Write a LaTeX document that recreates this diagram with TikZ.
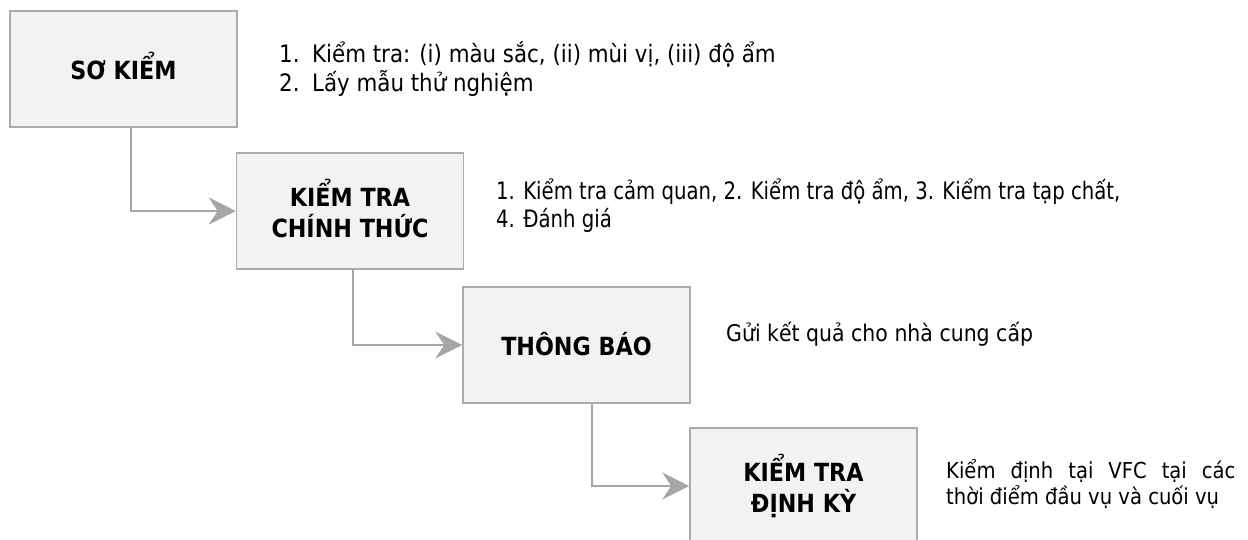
\documentclass[tikz,border=0pt]{standalone}
\usepackage{fontspec}
\setmainfont{DejaVu Sans}[FakeStretch=0.89]
\newfontfamily\narrowfont{DejaVu Sans}[FakeStretch=0.82]
\usetikzlibrary{arrows.meta}
\definecolor{boxfill}{HTML}{F2F2F2}
\definecolor{boxline}{HTML}{ABABAB}
\definecolor{linkgray}{HTML}{A6A6A6}
\newlength\lastlinewd
\begin{document}
\begin{tikzpicture}[x=1pt,y=-1pt,
  stage/.style={draw=boxline, line width=1.5pt, fill=boxfill,
    minimum width=227pt, minimum height=116pt, inner sep=0pt},
  stagetext/.style={anchor=base, inner sep=0pt,
    font=\fontsize{25}{30}\selectfont\bfseries},
  link/.style={draw=linkgray, line width=2pt,
    -{Stealth[length=27pt,width=27pt,inset=9pt]}},
  note/.style={anchor=base west, inner sep=0pt,
    font=\fontsize{24}{29}\selectfont},
  narrownote/.style={note, font=\fontsize{24}{29}\selectfont\narrowfont},
  midnote/.style={note, font=\fontsize{23}{28}\selectfont},
  smallnote/.style={note, font=\fontsize{22}{26}\selectfont}]
\clip (0,0) rectangle (1248,539);
\useasboundingbox (0,0) rectangle (1248,539);

% stage boxes
\node[stage] (b1) at (123.5,69) {};
\node[stage] (b2) at (350,211) {};
\node[stage] (b3) at (576.5,345) {};
\node[stage] (b4) at (803.5,486) {};

% stage titles
\node[stagetext] (t1) at (123.5,79) {SƠ KIỂM};
\node[stagetext] (t2a) at (350,206) {KIỂM TRA};
\node[stagetext] (t2b) at (350,237) {CHÍNH THỨC};
\node[stagetext] (t3) at (576.5,355) {THÔNG BÁO};
\node[stagetext] (t4a) at (803.5,481) {KIỂM TRA};
\node[stagetext] (t4b) at (803.5,512) {ĐỊNH KỲ};

% elbow connectors
\draw[link] ([xshift=7.5pt]b1.south) |- (b2.west);
\draw[link] ([xshift=3pt]b2.south) |- (b3.west);
\draw[link] ([xshift=15.5pt]b3.south) |- (b4.west);

% notes beside the stages
\node[note] (n1a) at (279,62) {1.};
\node[note] (n1b) at (312,62) {Kiểm tra: (i) màu sắc, (ii) mùi vị, (iii) độ ẩm};
\node[note] (n2a) at (279,91) {2.};
\node[note] (n2b) at (312,91) {Lấy mẫu thử nghiệm};

\node[narrownote] (c1) at (496,199) {1. Kiểm tra cảm quan, 2. Kiểm tra độ ẩm, 3. Kiểm tra tạp chất,};
\node[narrownote] (c2) at (496,227) {4. Đánh giá};

\node[midnote] (g1) at (726,341) {Gửi kết quả cho nhà cung cấp};

\node[smallnote] (v1) at (946,478) {\settowidth{\lastlinewd}{thời điểm đầu vụ và cuối vụ}%
  \makebox[1.06\lastlinewd][s]{Kiểm định tại VFC tại các}};
\node[smallnote] (v2) at (946,504) {thời điểm đầu vụ và cuối vụ};
\end{tikzpicture}
\end{document}
